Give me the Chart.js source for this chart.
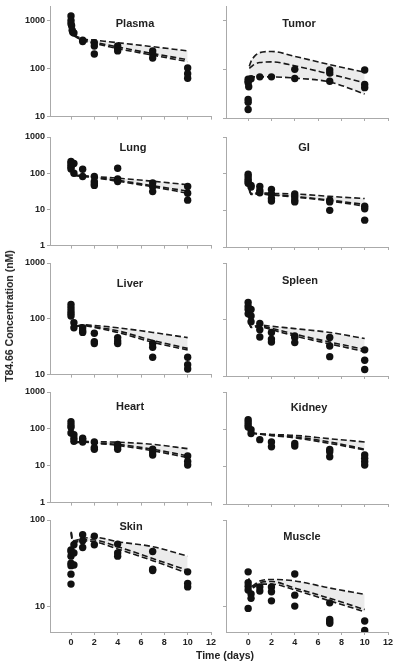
<!DOCTYPE html>
<html>
<head>
<meta charset="utf-8">
<script src="https://cdn.jsdelivr.net/npm/chart.js@4.4.1/dist/chart.umd.min.js"></script>
<style>
body { margin: 0; background: #fff; }
#wrap { position: relative; width: 400px; height: 669px; overflow: hidden; font-family: 'Liberation Sans', Arial, sans-serif; }
#wrap canvas { position: absolute; }
.lbl { position: absolute; transform: translate(-50%, -50%); font-weight: bold; font-size: 11px; color: #222; white-space: nowrap; }
</style>
</head>
<body>
<div id="wrap"></div>
<script>
// observed concentrations (nM) vs time (days), and three model curves per tissue
const plasmaT = [0, 0, 0, 0.05, 0.1, 0.15, 0.25, 1, 1, 2, 2, 2, 4, 4, 4, 7, 7, 7, 10, 10, 10];
const plasmaC = [1245, 1000, 855, 780, 625, 570, 550, 390, 365, 345, 295, 200, 295, 260, 233, 233, 200, 165, 103, 78, 63];
const plasmaModelT = [0.25, 1, 2, 4, 7, 10];
const plasmaHi = [500, 415, 390, 345, 285, 233];
const plasmaMid = [490, 400, 355, 282, 205, 153];
const plasmaLo = [480, 380, 335, 260, 190, 139];

const tumorT = [0, 0, 0, 0.05, 0, 0, 0, 0.25, 1, 2, 4, 4, 7, 7, 7, 10, 10, 10];
const tumorC = [63, 57, 53, 44, 24, 21, 15, 64, 70, 70, 100, 65, 97, 84, 57, 97, 49, 42];
const tumorModelT = [0.1, 0.25, 0.5, 1, 2, 4, 7, 10];
const tumorHi = [115, 146, 180, 220, 233, 185, 125, 87];
const tumorMid = [105, 112, 125, 138, 142, 118, 80, 53];
const tumorLo = [65, 68, 70, 70, 70, 66, 55, 31];

const lungT = [0, 0, 0, 0, 0, 0.1, 0.25, 0.25, 1, 1, 2, 2, 2, 2, 4, 4, 4, 7, 7, 7, 10, 10, 10];
const lungC = [210, 190, 165, 145, 130, 180, 100, 185, 128, 81, 81, 59, 51, 46, 137, 69, 59, 54, 42, 31, 43, 28, 18];
const lungModelT = [0.25, 1, 2, 4, 7, 10];
const lungHi = [88, 85, 81, 73, 60, 48];
const lungMid = [88, 83, 77, 64, 45, 32];
const lungLo = [86, 82, 75, 60, 42, 28];

const giT = [0, 0, 0, 0, 0, 0.25, 0.25, 1, 1, 1, 2, 2, 2, 2, 4, 4, 4, 4, 7, 7, 7, 10, 10, 10];
const giC = [96, 83, 70, 61, 55, 48, 43, 45, 35, 30, 37, 28, 21, 18, 28, 23, 19, 17, 19, 17, 10, 13, 11, 5.4];
const giModelT = [0.1, 0.25, 1, 2, 4, 7, 10];
const giHi = [38, 29, 30, 29, 28, 24, 21];
const giMid = [36, 28, 29, 27, 24, 19, 14.5];
const giLo = [35, 27, 28, 26, 23, 18, 13];

const liverT = [0, 0, 0, 0, 0, 0.25, 0.25, 1, 1, 1, 2, 2, 2, 4, 4, 4, 7, 7, 7, 10, 10, 10];
const liverC = [180, 158, 138, 124, 112, 85, 69, 69, 61, 57, 55, 39, 36, 46, 40, 36, 36, 31, 20.5, 20.5, 15, 12.6];
const liverModelT = [0.5, 1, 2, 4, 7, 10];
const liverHi = [74, 78, 76, 69, 57, 46];
const liverMid = [74, 77, 72, 61, 41, 29.5];
const liverLo = [73, 76, 70, 57, 38, 27.5];

const spleenT = [0, 0, 0, 0, 0.25, 0.25, 0.25, 1, 1, 1, 2, 2, 2, 4, 4, 4, 7, 7, 7, 10, 10, 10];
const spleenC = [200, 170, 150, 126, 150, 115, 91, 85, 66, 49, 59, 45, 40, 51, 48, 39, 48, 34, 22, 29, 19, 13];
const spleenModelT = [0.1, 0.25, 1, 2, 4, 7, 10];
const spleenHi = [90, 74, 80, 76, 69, 59, 46];
const spleenMid = [88, 73, 77, 70, 55, 40, 29.5];
const spleenLo = [86, 72, 74, 66, 51, 37, 27];

const heartT = [0, 0, 0, 0, 0.25, 0.25, 0.25, 1, 1, 1, 2, 2, 2, 4, 4, 4, 7, 7, 7, 10, 10, 10];
const heartC = [156, 128, 110, 77, 69, 56, 46, 56, 51, 44, 44, 31, 28, 38, 33, 28, 28, 23.5, 19.5, 18.5, 13, 10.5];
const heartModelT = [0.25, 1, 2, 4, 7, 10];
const heartHi = [42, 46, 45, 43.5, 38, 29];
const heartMid = [42, 45, 42, 38, 28, 18.5];
const heartLo = [41, 44, 41, 35.5, 25.5, 16.6];

const kidneyT = [0, 0, 0, 0, 0.25, 0.25, 1, 2, 2, 4, 4, 7, 7, 7, 10, 10, 10, 10];
const kidneyC = [180, 156, 133, 115, 98, 77, 53, 46, 34, 42, 35.5, 29, 25, 18.5, 20.5, 16.7, 13.5, 11];
const kidneyModelT = [0.25, 1, 2, 4, 7, 10];
const kidneyHi = [80, 76, 73, 69, 56, 46];
const kidneyMid = [80, 75, 70, 63, 46, 29.5];
const kidneyLo = [79, 74, 68, 59, 42, 28];

const skinT = [0, 0, 0, 0, 0, 0, 0, 0.25, 0.25, 0.25, 1, 1, 1, 2, 2, 4, 4, 4, 7, 7, 7, 10, 10, 10];
const skinC = [45, 43, 38, 31.5, 29.5, 23.5, 18, 51.5, 41.5, 30, 67.5, 57.5, 48, 65, 51.5, 52.5, 41.5, 38, 43, 26.8, 25.9, 25, 18.3, 16.7];
const skinModelT = [0.02, 0.1, 0.25, 1, 2, 4, 7, 10];
const skinHi = [73, 60, 57.5, 61, 63, 56, 49, 38];
const skinMid = [72, 58, 56, 59, 58.5, 49, 35.7, 26];
const skinLo = [71, 57, 55, 57, 56, 46, 33.7, 24];

const muscleT = [0, 0, 0, 0, 0, 0.25, 0.25, 1, 1, 2, 2, 2, 4, 4, 4, 7, 7, 7, 7, 10, 10];
const muscleC = [25, 18.7, 17, 15.4, 9.4, 13.8, 12.3, 16.7, 15, 16.7, 14.7, 11.5, 23.6, 13.4, 10, 10.9, 7.0, 6.6, 6.3, 6.7, 5.2];
const muscleModelT = [0.05, 0.25, 1, 2, 4, 7, 10];
const muscleHi = [21, 17, 19.6, 20.4, 19.6, 16.2, 13.7];
const muscleMid = [20, 16.5, 18.7, 19.3, 16.2, 12.3, 9.1];
const muscleLo = [19, 16, 18, 18, 15.4, 11.5, 8.6];

const xTicks = [0, 2, 4, 6, 8, 10, 12];
const yTicksRow = [[10, 100, 1000], [1, 10, 100, 1000], [10, 100, 1000], [1, 10, 100, 1000], [10, 100]];
const yMinRow = [10, 1, 10, 1, 5];
const yMaxRow = [2000, 1000, 1000, 1000, 100];

// layout (pixels)
const rowBox = [[6, 118], [137, 247], [263, 376], [392, 504], [520, 632]];
const colBox = [{ left: 50, right: 211, xmin: -1.8, yW: 40 }, { left: 226, right: 388, xmin: -1.9, yW: 14 }];

const panels = [
    ['Plasma', plasmaT, plasmaC, plasmaModelT, plasmaHi, plasmaMid, plasmaLo, 135, 23],
    ['Tumor', tumorT, tumorC, tumorModelT, tumorHi, tumorMid, tumorLo, 299, 23],
    ['Lung', lungT, lungC, lungModelT, lungHi, lungMid, lungLo, 133, 147],
    ['GI', giT, giC, giModelT, giHi, giMid, giLo, 304, 147],
    ['Liver', liverT, liverC, liverModelT, liverHi, liverMid, liverLo, 130, 283],
    ['Spleen', spleenT, spleenC, spleenModelT, spleenHi, spleenMid, spleenLo, 300, 280],
    ['Heart', heartT, heartC, heartModelT, heartHi, heartMid, heartLo, 130, 406],
    ['Kidney', kidneyT, kidneyC, kidneyModelT, kidneyHi, kidneyMid, kidneyLo, 309, 407],
    ['Skin', skinT, skinC, skinModelT, skinHi, skinMid, skinLo, 131, 526],
    ['Muscle', muscleT, muscleC, muscleModelT, muscleHi, muscleMid, muscleLo, 302, 536]
];

const wrap = document.getElementById('wrap');
const axisGray = '#aaaaaa';
const tickFont = { family: "'Liberation Sans', Arial, sans-serif", size: 9, weight: 'bold' };

function addLabel(text, x, y, extra) {
    const d = document.createElement('div');
    d.className = 'lbl';
    d.textContent = text;
    d.style.left = x + 'px';
    d.style.top = y + 'px';
    if (extra) Object.assign(d.style, extra);
    wrap.appendChild(d);
}

function pts(xs, ys) {
    return xs.map((x, i) => ({ x: x, y: ys[i] }));
}

panels.forEach(function (p, i) {
    const row = Math.floor(i / 2);
    const col = colBox[i % 2];
    const isBottom = row === 4;
    const padTop = 8, padBottom = 2, padRight = 8;
    const xH = isBottom ? 24 : 4;
    const top = rowBox[row][0], bottom = rowBox[row][1];
    const cLeft = col.left - col.yW;
    const cWidth = col.right - cLeft + padRight;
    const cHeight = (bottom - top) + padTop + padBottom + xH;

    const canvas = document.createElement('canvas');
    canvas.width = cWidth;
    canvas.height = cHeight;
    canvas.style.left = cLeft + 'px';
    canvas.style.top = (top - padTop) + 'px';
    wrap.appendChild(canvas);

    const line = {
        type: 'line',
        borderColor: '#1a1a1a',
        borderWidth: 1.6,
        borderDash: [6, 3],
        pointRadius: 0,
        cubicInterpolationMode: 'monotone'
    };

    new Chart(canvas, {
        type: 'line',
        data: {
            datasets: [
                {
                    label: p[0],
                    data: pts(p[1], p[2]),
                    showLine: false,
                    pointRadius: 3.7,
                    pointBackgroundColor: '#111',
                    pointBorderWidth: 0
                },
                Object.assign({}, line, { data: pts(p[3], p[4]), fill: '+2', backgroundColor: 'rgba(0,0,0,0.08)' }),
                Object.assign({}, line, { data: pts(p[3], p[5]), fill: false }),
                Object.assign({}, line, { data: pts(p[3], p[6]), fill: false })
            ]
        },
        options: {
            responsive: false,
            animation: false,
            layout: { padding: { top: padTop, bottom: padBottom, right: padRight, left: 0 } },
            plugins: { legend: { display: false }, tooltip: { enabled: false } },
            scales: {
                x: {
                    type: 'linear',
                    min: col.xmin,
                    max: 12,
                    afterBuildTicks: s => { s.ticks = xTicks.map(v => ({ value: v })); },
                    afterFit: s => { s.height = xH; },
                    grid: { drawOnChartArea: false, tickLength: 3, color: axisGray },
                    border: { color: axisGray },
                    ticks: { display: isBottom, font: tickFont, color: '#222', padding: 2, maxRotation: 0 }
                },
                y: {
                    type: 'logarithmic',
                    min: yMinRow[row],
                    max: yMaxRow[row],
                    afterBuildTicks: s => { s.ticks = yTicksRow[row].map(v => ({ value: v })); },
                    afterFit: s => { s.width = col.yW; },
                    grid: { drawOnChartArea: false, tickLength: 3, color: axisGray },
                    border: { color: axisGray },
                    ticks: { display: i % 2 === 0, font: tickFont, color: '#222', padding: 2, callback: v => String(v) }
                }
            }
        }
    });

    addLabel(p[0], p[7], p[8]);
});

addLabel('Time (days)', 225, 655, { fontSize: '10.5px' });
addLabel('T84.66 Concentration (nM)', 9, 316, { fontSize: '10.5px', transform: 'translate(-50%, -50%) rotate(-90deg)' });
</script>
</body>
</html>
